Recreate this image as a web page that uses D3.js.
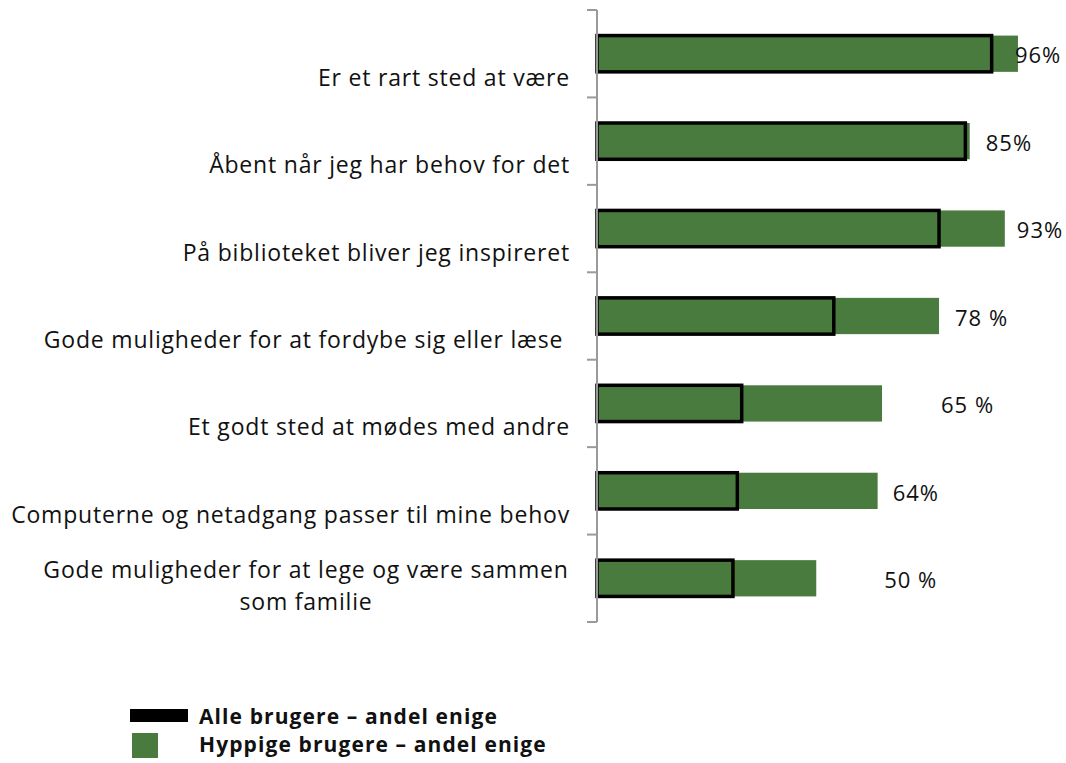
<html lang="da">
  <head>
    <meta charset="utf-8">
    <title>Andel enige</title>
    <script src="https://d3js.org/d3.v7.min.js"></script>
    <style>
      body { margin: 0; background: #fff; }
      text { font-family: "Open Sans", "Noto Sans", sans-serif; fill: #111; white-space: pre; }
    </style>
  </head>
  <body>
    <script type="text/javascript">
      var w = 1066;
      var h = 763;

      // data
      var categories = ["Er et rart sted at være",
                        "Åbent når jeg har behov for det",
                        "På biblioteket bliver jeg inspireret",
                        "Gode muligheder for at fordybe sig eller læse ",
                        "Et godt sted at mødes med andre",
                        "Computerne og netadgang passer til mine behov",
                        "Gode muligheder for at lege og være sammen som familie"];
      var alle = [90, 84, 78, 54, 33, 32, 31];
      var hyppige = [96, 85, 93, 78, 65, 64, 50];
      var valueLabels = ["96%", "85%", "93%", "78 %", "65 %", "64%", "50 %"];
      var seriesNames = ["Alle brugere – andel enige", "Hyppige brugere – andel enige"];

      // hand placed value labels in the original, px right of the green bar end
      var labelShift = [-3, 16, 12, 16, 59, 15, 68];

      var green = "#4a7b3e";
      var axisX = 597;

      var rows = categories.map(function(c, i) {
        return {cat: c, alle: alle[i], hyppige: hyppige[i], label: valueLabels[i], shift: labelShift[i]};
      });

      var xScale = d3.scaleLinear()
          .domain([0, 100])
          .range([axisX, axisX + 438.5]);
      var yScale = d3.scaleBand()
          .domain(categories)
          .range([10, 622])
          .paddingInner(0.585)
          .paddingOuter(0.2925);

      var svg = d3.select("body")
          .append("svg")
          .attr("width", w)
          .attr("height", h);

      // green bars (frequent users)
      svg.selectAll("rect.hyp")
          .data(rows)
          .enter()
          .append("rect")
          .attr("class", "hyp")
          .attr("x", xScale(0))
          .attr("y", function(d) { return yScale(d.cat); })
          .attr("width", function(d) { return xScale(d.hyppige) - xScale(0); })
          .attr("height", yScale.bandwidth())
          .attr("fill", green);

      // black outlined bars (all users)
      svg.selectAll("rect.alle")
          .data(rows)
          .enter()
          .append("rect")
          .attr("class", "alle")
          .attr("x", xScale(0))
          .attr("y", function(d) { return yScale(d.cat); })
          .attr("width", function(d) { return xScale(d.alle) - xScale(0); })
          .attr("height", yScale.bandwidth())
          .attr("fill", "none")
          .attr("stroke", "#000")
          .attr("stroke-width", 3.5);

      // value labels
      svg.selectAll("text.val")
          .data(rows)
          .enter()
          .append("text")
          .attr("class", "val")
          .attr("x", function(d) { return xScale(d.hyppige) + d.shift; })
          .attr("y", function(d) { return yScale(d.cat) + yScale.bandwidth() / 2 + 2; })
          .attr("dy", "0.35em")
          .style("font-size", "22px")
          .style("letter-spacing", "1px")
          .text(function(d) { return d.label; });

      // category axis: the domain plus ticks between categories
      var yAxis = d3.axisLeft(yScale).tickSize(0).tickFormat("");
      var gAxis = svg.append("g")
          .attr("transform", "translate(" + axisX + ",0)")
          .call(yAxis);
      gAxis.select(".domain").attr("stroke", "#9a9a9a").attr("stroke-width", 2)
          .attr("d", "M0," + yScale.range()[0] + "V" + yScale.range()[1]);
      var edges = [yScale.range()[0]].concat(categories.map(function(c) {
        return yScale(c) - yScale.step() * yScale.paddingInner() / 2 + yScale.step();
      }));
      gAxis.selectAll("line.tk")
          .data(edges)
          .enter()
          .append("line")
          .attr("class", "tk")
          .attr("x1", -10).attr("x2", 0)
          .attr("y1", function(d) { return d; })
          .attr("y2", function(d) { return d; })
          .attr("stroke", "#9a9a9a")
          .attr("stroke-width", 2);

      // category labels, sitting a little below the bar, last one wrapped
      var catG = svg.selectAll("text.cat")
          .data(rows)
          .enter()
          .append("text")
          .attr("class", "cat")
          .style("font-size", "23px")
          .style("letter-spacing", "0.8px");
      catG.each(function(d, i) {
        var t = d3.select(this);
        var cy = yScale(d.cat) + yScale.bandwidth() / 2;
        if (i === categories.length - 1) {
          t.attr("text-anchor", "middle");
          t.append("tspan").attr("x", 306).attr("y", cy - 8).attr("dy", "0.35em")
            .text("Gode muligheder for at lege og være sammen");
          t.append("tspan").attr("x", 306).attr("y", cy + 24).attr("dy", "0.35em")
            .text("som familie");
        } else {
          t.attr("text-anchor", "end");
          t.append("tspan").attr("x", 570).attr("y", cy + 24).attr("dy", "0.35em")
            .text(d.cat);
        }
      });

      // legend
      var legend = svg.append("g");
      legend.append("rect")
          .attr("x", 130).attr("y", 709).attr("width", 58).attr("height", 13)
          .attr("fill", "#000");
      legend.append("rect")
          .attr("x", 132).attr("y", 733).attr("width", 26).attr("height", 25)
          .attr("fill", green);
      legend.selectAll("text")
          .data(seriesNames)
          .enter()
          .append("text")
          .attr("x", 199)
          .attr("y", function(d, i) { return 717 + i * 28; })
          .attr("dy", "0.35em")
          .style("font-size", "21px")
          .style("letter-spacing", "1.1px")
          .style("font-weight", "bold")
          .text(function(d) { return d; });
    </script>
  </body>
</html>
